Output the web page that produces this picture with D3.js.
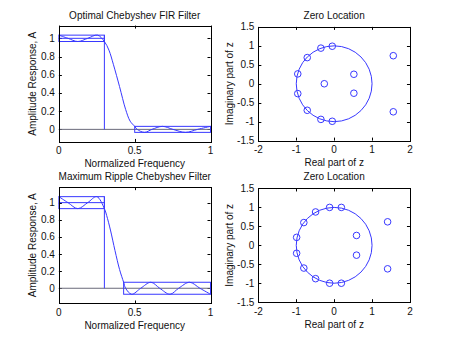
<!DOCTYPE html>
<html><head><meta charset="utf-8">
<script src="https://cdn.jsdelivr.net/npm/d3@7"></script>
<style>
body{margin:0;background:#fff}
svg{display:block}
text{font-family:"Liberation Sans",Arial,Helvetica,sans-serif;font-size:10px;fill:#111}
</style>
</head><body>
<svg id="chart" width="453" height="341"></svg>
<script>
// ---------- data ----------
const freqTicks = [0, 0.5, 1];
const ampTicks = [0, 0.2, 0.4, 0.6, 0.8, 1];
const reTicks = [-2, -1, 0, 1, 2];
const imTicks = [-1.5, -1, -0.5, 0, 0.5, 1, 1.5];

// Optimal Chebyshev FIR filter (top)
const optPassEdge = 0.3, optStopEdge = 0.5, optDeltaP = 0.035, optDeltaS = 0.033;
const optFreq = [0, 0.06, 0.125, 0.19, 0.255, 0.3, 0.33, 0.36, 0.40, 0.44, 0.47, 0.5, 0.516, 0.565, 0.614, 0.683, 0.752, 0.835, 0.915, 1.0];
const optAmp  = [1.035, 1.0, 0.965, 1.0, 1.035, 0.965, 0.87, 0.71, 0.47, 0.22, 0.09, 0.033, 0, -0.033, 0, 0.033, 0, -0.033, 0, 0.033];
const optZeroRe = [-0.05, -0.35, -0.71, -0.96, -0.96, -0.71, -0.35, -0.05, -0.26, 0.52, 0.52, 1.56, 1.56];
const optZeroIm = [0.99, 0.94, 0.69, 0.26, -0.26, -0.70, -0.94, -0.99, 0, 0.25, -0.25, 0.74, -0.74];

// Maximum ripple Chebyshev filter (bottom)
const mrPassEdge = 0.3, mrStopEdge = 0.427, mrDelta = 0.07;
const mrFreq = [0, 0.06, 0.125, 0.19, 0.25, 0.3, 0.315, 0.34, 0.37, 0.40, 0.427, 0.44, 0.48, 0.54, 0.607, 0.665, 0.733, 0.79, 0.862, 0.93, 1.0];
const mrAmp  = [1.07, 1.0, 0.93, 1.0, 1.07, 0.93, 0.85, 0.68, 0.44, 0.22, 0.07, 0, -0.07, 0, 0.07, 0, -0.07, 0, 0.07, 0, -0.07];
const mrZeroRe = [0.19, -0.12, -0.49, -0.80, -0.99, -0.99, -0.80, -0.49, -0.12, 0.19, 0.59, 0.59, 1.41, 1.41];
const mrZeroIm = [1.0, 1.0, 0.88, 0.60, 0.21, -0.21, -0.60, -0.88, -1.0, -1.0, 0.26, -0.26, 0.62, -0.62];

const titles = ["Optimal Chebyshev FIR Filter", "Zero Location", "Maximum Ripple Chebyshev Filter", "Zero Location"];

// ---------- drawing ----------
const svg = d3.select("#chart");
const BLUE = "#3838ff";
const fw = 453, fh = 341;

function makeAxes(box, xdom, ydom, xt, yt, title, xlabel, ylabel, titleY) {
  const g = svg.append("g");
  const x = d3.scaleLinear().domain(xdom).range([box.x, box.x + box.w]);
  const y = d3.scaleLinear().domain(ydom).range([box.y + box.h, box.y]);
  const L = box.x, R = box.x + box.w, T = box.y, B = box.y + box.h;
  const tl = 3;
  xt.forEach(v => {
    const px = Math.round(x(v)) + 0.5;
    g.append("line").attr("x1", px).attr("x2", px).attr("y1", B).attr("y2", B - tl).attr("stroke", "#000");
    g.append("line").attr("x1", px).attr("x2", px).attr("y1", T).attr("y2", T + tl).attr("stroke", "#000");
    g.append("text").attr("x", x(v)).attr("y", B + 9).attr("dy", "0.35em").attr("text-anchor", "middle").text(String(v));
  });
  yt.forEach(v => {
    const py = Math.round(y(v)) + 0.5;
    g.append("line").attr("x1", L).attr("x2", L + tl).attr("y1", py).attr("y2", py).attr("stroke", "#000");
    g.append("line").attr("x1", R).attr("x2", R - tl).attr("y1", py).attr("y2", py).attr("stroke", "#000");
    g.append("text").attr("x", L - 4).attr("y", y(v)).attr("dy", "0.35em").attr("text-anchor", "end").text(String(v));
  });
  g.append("text").attr("x", (L + R) / 2).attr("y", titleY).attr("dy", "0.35em").attr("text-anchor", "middle").text(title);
  g.append("text").attr("x", (L + R) / 2).attr("y", B + 22).attr("dy", "0.35em").attr("text-anchor", "middle").text(xlabel);
  g.append("text").attr("transform", `translate(${box.labelX},${(T + B) / 2}) rotate(-90)`).attr("dy", "0.35em").attr("text-anchor", "middle").text(ylabel);
  const frame = () => g.append("rect").attr("x", Math.round(L) + 0.5).attr("y", Math.round(T) + 0.5)
      .attr("width", Math.round(R) - Math.round(L)).attr("height", Math.round(B) - Math.round(T))
      .attr("fill", "none").attr("stroke", "#000");
  return {g, x, y, frame};
}

function ampPanel(box, freq, amp, pe, se, dp, ds, title, titleY, ydom) {
  const a = makeAxes(box, [0, 1], ydom, freqTicks, ampTicks, title, "Normalized Frequency", "Amplitude Response, A", titleY);
  const {g, x, y} = a;
  g.append("line").attr("x1", x(0)).attr("x2", x(1)).attr("y1", y(0)).attr("y2", y(0)).attr("stroke", "#6a6a7a");
  g.append("rect").attr("x", x(0)).attr("y", y(1 + dp)).attr("width", x(pe) - x(0)).attr("height", y(1 - dp) - y(1 + dp))
    .attr("fill", "none").attr("stroke", BLUE);
  g.append("line").attr("x1", x(0)).attr("x2", x(pe)).attr("y1", y(1)).attr("y2", y(1)).attr("stroke", BLUE);
  g.append("line").attr("x1", x(pe)).attr("x2", x(pe)).attr("y1", y(0)).attr("y2", y(1 + dp)).attr("stroke", BLUE);
  g.append("rect").attr("x", x(se)).attr("y", y(ds)).attr("width", x(1) - x(se)).attr("height", y(-ds) - y(ds))
    .attr("fill", "none").attr("stroke", BLUE);
  const pts = freq.map((f, i) => [f, amp[i]]);
  g.append("path").attr("d", d3.line().x(d => x(d[0])).y(d => y(d[1])).curve(d3.curveCatmullRom.alpha(0.5))(pts))
    .attr("fill", "none").attr("stroke", BLUE);
  a.frame();
}

function zeroPanel(box, re, im, title, titleY) {
  const a = makeAxes(box, [-2, 2], [-1.5, 1.5], reTicks, imTicks, title, "Real part of z", "Imaginary part of z", titleY);
  const {g, x, y} = a;
  g.append("ellipse").attr("cx", x(0)).attr("cy", y(0)).attr("rx", x(1) - x(0)).attr("ry", y(0) - y(1))
    .attr("fill", "none").attr("stroke", BLUE);
  g.selectAll("circle.z").data(re.map((r, i) => [r, im[i]])).enter().append("circle")
    .attr("cx", d => x(d[0])).attr("cy", d => y(d[1])).attr("r", 3.3)
    .attr("fill", "none").attr("stroke", BLUE);
  a.frame();
}

const leftX = 0.13 * fw, colW = 0.3347 * fw, rightX = 0.5703 * fw, rowH = 0.3412 * fh;
const topY = fh - (0.5838 * fh + rowH), botY = fh - (0.11 * fh + rowH);
const zH = colW * 3 / 4;

ampPanel({x: leftX, y: topY, w: colW, h: rowH, labelX: 32}, optFreq, optAmp, optPassEdge, optStopEdge, optDeltaP, optDeltaS, titles[0], 15.7, [-0.138, 1.14]);
zeroPanel({x: rightX, y: topY + (rowH - zH) / 2, w: colW, h: zH, labelX: 229.5}, optZeroRe, optZeroIm, titles[1], 15.7);
ampPanel({x: leftX, y: botY, w: colW, h: rowH, labelX: 32}, mrFreq, mrAmp, mrPassEdge, mrStopEdge, mrDelta, mrDelta, titles[2], 176.7, [-0.178, 1.181]);
zeroPanel({x: rightX, y: botY + (rowH - zH) / 2, w: colW, h: zH, labelX: 229.5}, mrZeroRe, mrZeroIm, titles[3], 176.7);
</script>
</body></html>
